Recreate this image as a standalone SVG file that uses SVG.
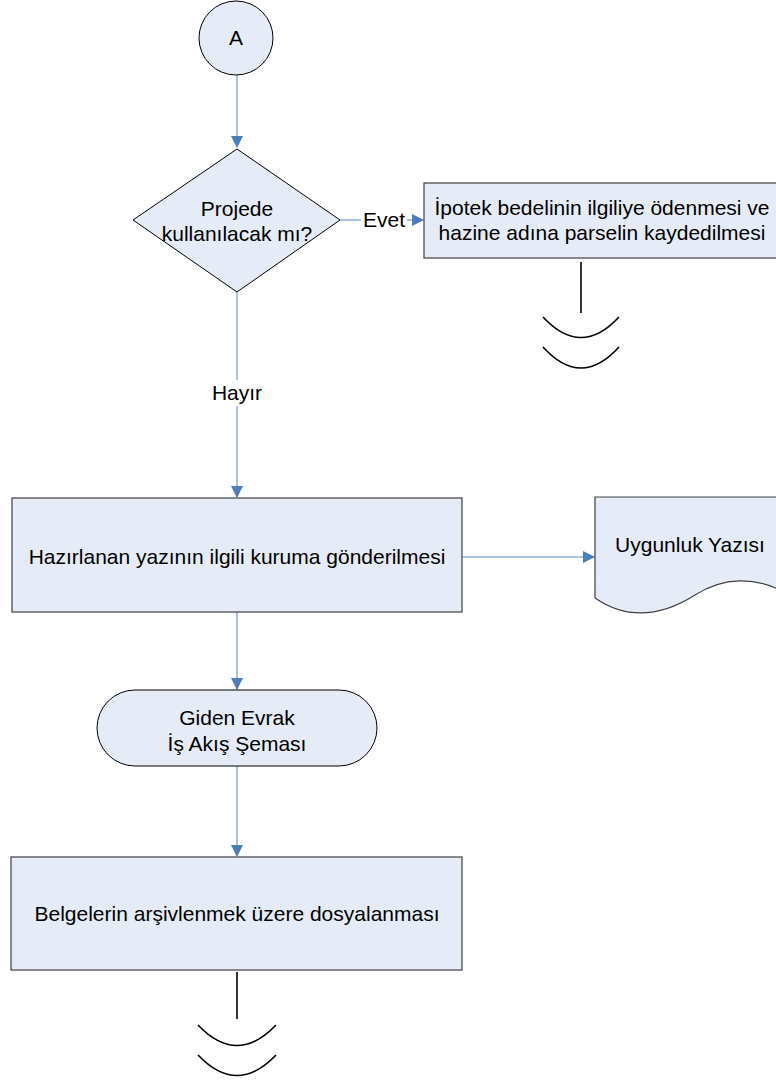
<svg xmlns="http://www.w3.org/2000/svg" width="776" height="1082" viewBox="0 0 776 1082">
<style>
.box{fill:#e6ecf7;stroke:#404040;stroke-width:1.2}
.shp{fill:#e6ecf7;stroke:#000;stroke-width:1}
.con{fill:none;stroke:#8eb1dd;stroke-width:1.5}
.brk{fill:none;stroke:#000;stroke-width:1.6}
text{font-family:"Liberation Sans",Arial,sans-serif;font-size:21px;fill:#000;text-anchor:middle}
</style>
<defs>
<marker id="ah" markerWidth="12" markerHeight="12" refX="11" refY="6" orient="auto" markerUnits="userSpaceOnUse">
<path d="M0,0 L12,6 L0,12 Z" fill="#4a7ebb"/>
</marker>
</defs>
<g id="connectors">
<path class="con" d="M237,75 V147" marker-end="url(#ah)"/>
<path class="con" d="M340,220 H423" marker-end="url(#ah)"/>
<path class="con" d="M237,292 V497" marker-end="url(#ah)"/>
<path class="con" d="M462,557 H594" marker-end="url(#ah)"/>
<path class="con" d="M237,612 V689" marker-end="url(#ah)"/>
<path class="con" d="M237,766 V856" marker-end="url(#ah)"/>
<rect x="361" y="208" width="46" height="24" fill="#fff"/>
<text x="384" y="227">Evet</text>
<rect x="208" y="380" width="58" height="26" fill="#fff"/>
<text x="237" y="400">Hayır</text>
</g>
<g id="nA">
<circle class="shp" cx="236" cy="38" r="37"/>
<text x="236" y="45">A</text>
</g>
<g id="nDecision">
<polygon class="shp" points="237,149 340,220 237,292 133,220"/>
<text x="237" y="216">Projede</text>
<text x="237" y="241">kullanılacak mı?</text>
</g>
<g id="nIpotek">
<rect class="box" x="424" y="183" width="354" height="75"/>
<text x="602" y="215">İpotek bedelinin ilgiliye ödenmesi ve</text>
<text x="602" y="240">hazine adına parselin kaydedilmesi</text>
</g>
<g id="nBreak1">
<path class="brk" d="M581,262 V313"/>
<path class="brk" d="M543,317 Q581,358 619,317"/>
<path class="brk" d="M543,347 Q581,389 619,347"/>
</g>
<g id="nHazirlanan">
<rect class="box" x="12" y="498" width="450" height="114"/>
<text x="237" y="564">Hazırlanan yazının ilgili kuruma gönderilmesi</text>
</g>
<g id="nUygunluk">
<path class="box" d="M595,497 H780 V590 C755,578 725,576 695,595 C665,614 630,622 595,598 Z"/>
<text x="690" y="552">Uygunluk Yazısı</text>
</g>
<g id="nGiden">
<rect class="shp" x="97" y="690" width="280" height="76" rx="38" ry="38"/>
<text x="237" y="725">Giden Evrak</text>
<text x="237" y="751">İş Akış Şeması</text>
</g>
<g id="nBelgeler">
<rect class="box" x="11" y="857" width="451" height="113"/>
<text x="237" y="921">Belgelerin arşivlenmek üzere dosyalanması</text>
</g>
<g id="nBreak2">
<path class="brk" d="M237,972 V1019"/>
<path class="brk" d="M198,1025 Q237,1066 276,1025"/>
<path class="brk" d="M198,1055 Q237,1096 276,1055"/>
</g>
</svg>
